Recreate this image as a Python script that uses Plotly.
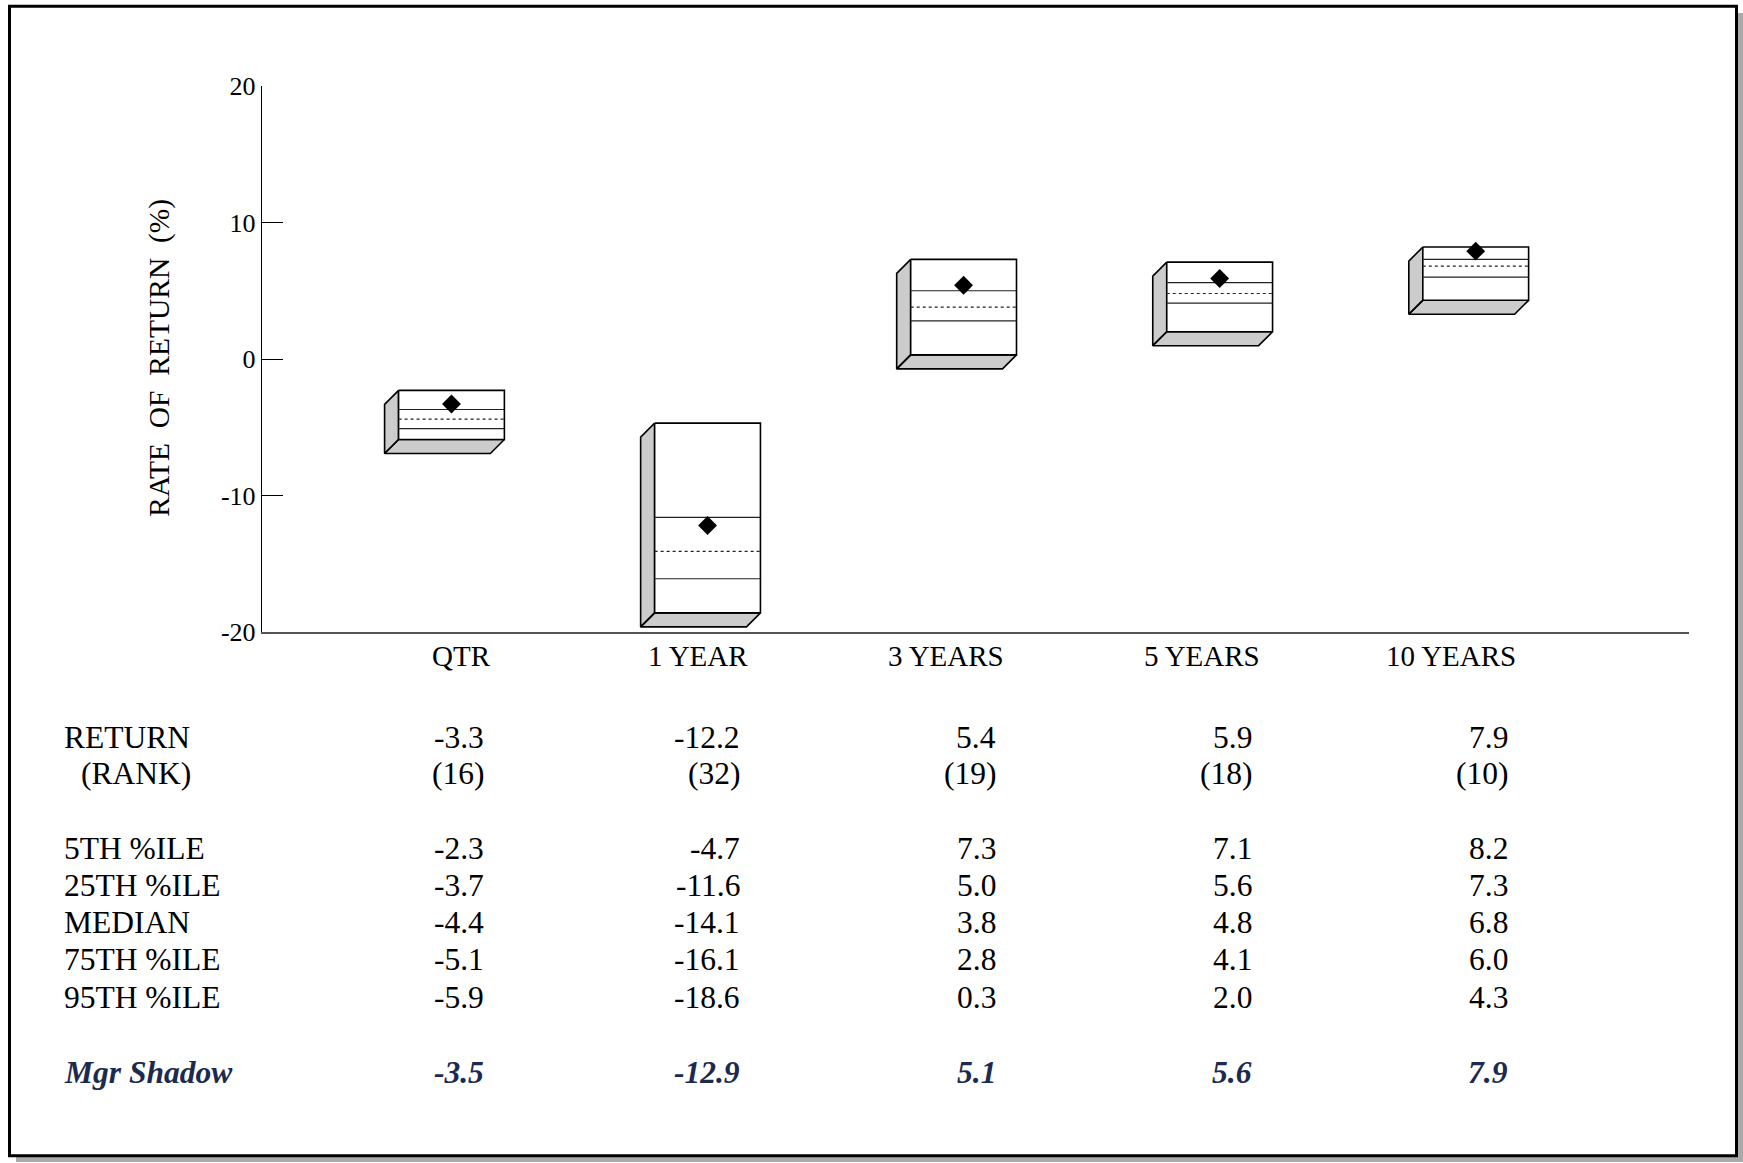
import plotly.graph_objects as go

# ---------------- data ----------------
categories = ["QTR", "1 YEAR", "3 YEARS", "5 YEARS", "10 YEARS"]
returns = [-3.3, -12.2, 5.4, 5.9, 7.9]
ranks = [16, 32, 19, 18, 10]
pct5 = [-2.3, -4.7, 7.3, 7.1, 8.2]
pct25 = [-3.7, -11.6, 5.0, 5.6, 7.3]
median = [-4.4, -14.1, 3.8, 4.8, 6.8]
pct75 = [-5.1, -16.1, 2.8, 4.1, 6.0]
pct95 = [-5.9, -18.6, 0.3, 2.0, 4.3]
mgr_shadow = [-3.5, -12.9, 5.1, 5.6, 7.9]
y_ticks = [-20, -10, 0, 10, 20]
y_tick_text = ["-20", "-10", "0", "10", "20"]

row_labels = ["5TH %ILE", "25TH %ILE", "MEDIAN", "75TH %ILE", "95TH %ILE"]
row_values = [pct5, pct25, median, pct75, pct95]

# ---------------- geometry ----------------
W, H = 1743, 1163
L, R, T, B = 262, 54, 86, 530.5
plot_w = W - L - R
plot_h = H - T - B
x_range = [-0.740, 4.833]
y_range = [-20, 20]
ux = plot_w / (x_range[1] - x_range[0])
uy = plot_h / (y_range[1] - y_range[0])

half_w = 52.9 / ux
dx = 14.0 / ux
dy = 14.0 / uy


def py(p):
    return (H - B - p) / plot_h


def pxp(p):
    return (p - L) / plot_w


FONT = "Liberation Serif, Times New Roman, serif"
NAVY = "#1B2A4E"
TABLE_SIZE = 31.5

fig = go.Figure()

# side faces (left + bottom)
sx, sy = [], []
for i in range(len(categories)):
    xl, xr = i - half_w, i + half_w
    top, bot = pct5[i], pct95[i]
    sx += [xl, xl - dx, xl - dx, xl, xl, None]
    sy += [top, top - dy, bot - dy, bot, top, None]
    sx += [xl, xl - dx, xr - dx, xr, xl, None]
    sy += [bot, bot - dy, bot - dy, bot, bot, None]
fig.add_trace(go.Scatter(x=sx, y=sy, mode="lines", fill="toself",
                         fillcolor="#CCCCCC",
                         line=dict(color="black", width=1.6),
                         hoverinfo="skip", showlegend=False))

# front faces
fx, fy = [], []
for i in range(len(categories)):
    xl, xr = i - half_w, i + half_w
    fx += [xl, xr, xr, xl, xl, None]
    fy += [pct5[i], pct5[i], pct95[i], pct95[i], pct5[i], None]
fig.add_trace(go.Scatter(x=fx, y=fy, mode="lines", fill="toself",
                         fillcolor="white",
                         line=dict(color="black", width=1.6),
                         hoverinfo="skip", showlegend=False))


def hlines(vals):
    xs, ys = [], []
    for i, v in enumerate(vals):
        xs += [i - half_w, i + half_w, None]
        ys += [v, v, None]
    return xs, ys


for vals, dash in [(pct25, "solid"), (pct75, "solid"), (median, "dot")]:
    hx, hy = hlines(vals)
    fig.add_trace(go.Scatter(x=hx, y=hy, mode="lines",
                             line=dict(color="#222222", width=1.2, dash=dash),
                             hoverinfo="skip", showlegend=False))

# return markers
fig.add_trace(go.Scatter(x=list(range(len(categories))), y=returns, mode="markers",
                         marker=dict(symbol="diamond", size=14.5, color="black",
                                     line=dict(width=0)),
                         hoverinfo="skip", showlegend=False))

annotations = []

# category labels (right aligned)
for i, c in enumerate(categories):
    annotations.append(dict(x=i, xref="x", xshift=42, xanchor="right",
                            y=py(656.5), yref="paper", yanchor="middle",
                            text=c, showarrow=False,
                            font=dict(family=FONT, size=29, color="black")))

# table rows
table_rows = [("RETURN", 62, 738, [f"{v:.1f}" for v in returns], "black", False),
              ("(RANK)", 79, 774, [f"({r})" for r in ranks], "black", False)]
row_y = [849, 886, 923, 960, 998]
for lab, vals, yy in zip(row_labels, row_values, row_y):
    table_rows.append((lab, 62, yy, [f"{v:.1f}" for v in vals], "black", False))
table_rows.append(("Mgr Shadow", 62, 1073, [f"{v:.1f}" for v in mgr_shadow], NAVY, True))

for lab, lx, yy, vals, col, emph in table_rows:
    t_lab = f"<b><i>{lab}</i></b>" if emph else lab
    annotations.append(dict(x=pxp(lx), xref="paper", xanchor="left",
                            y=py(yy), yref="paper", yanchor="middle",
                            text=t_lab, showarrow=False,
                            font=dict(family=FONT, size=TABLE_SIZE, color=col)))
    for i, v in enumerate(vals):
        t_v = f"<b><i>{v}</i></b>" if emph else v
        annotations.append(dict(x=i, xref="x", xshift=34.5, xanchor="right",
                                y=py(yy), yref="paper", yanchor="middle",
                                text=t_v, showarrow=False,
                                font=dict(family=FONT, size=TABLE_SIZE, color=col)))

# y-axis title
annotations.append(dict(x=pxp(160), xref="paper", xanchor="center",
                        y=py(358), yref="paper", yanchor="middle",
                        text="RATE\u00a0 OF\u00a0 RETURN\u00a0 (%)", textangle=-90,
                        showarrow=False,
                        font=dict(family=FONT, size=29.5, color="black")))

shapes = [
    dict(type="rect", xref="paper", yref="paper", layer="below",
         x0=pxp(16), x1=pxp(1743), y0=py(13), y1=py(1163),
         fillcolor="#AAAAAA", line=dict(width=0)),
    dict(type="rect", xref="paper", yref="paper", layer="below",
         x0=pxp(9.5), x1=pxp(1736.5), y0=py(6.3), y1=py(1156.7),
         fillcolor="white", line=dict(color="black", width=3)),
]

fig.update_layout(
    width=W, height=H,
    margin=dict(l=L, r=R, t=T, b=B, pad=0),
    paper_bgcolor="white", plot_bgcolor="rgba(0,0,0,0)",
    showlegend=False, hovermode=False,
    annotations=annotations, shapes=shapes,
    xaxis=dict(range=x_range, showgrid=False, zeroline=False,
               showline=True, linecolor="#555555", linewidth=2,
               showticklabels=False, ticks=""),
    yaxis=dict(range=y_range, tickvals=y_ticks, ticktext=y_tick_text,
               showgrid=False, zeroline=False,
               showline=True, linecolor="black", linewidth=1.2,
               ticks="inside", ticklen=21, tickwidth=1, tickcolor="black",
               tickfont=dict(family=FONT, size=26, color="black")),
)

fig.write_html(
    "out.html",
    config={"displayModeBar": False, "staticPlot": True},
    post_script="document.body.style.margin='0px';document.body.style.overflow='hidden';",
)
